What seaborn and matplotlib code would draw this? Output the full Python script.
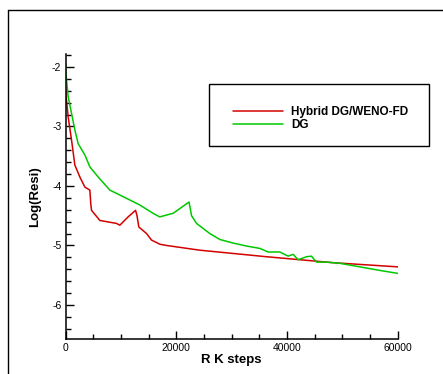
import numpy as np
import pandas as pd
import matplotlib
matplotlib.use("Agg")
import matplotlib.pyplot as plt
import seaborn as sns
from matplotlib.lines import Line2D
from matplotlib.patches import Rectangle
from matplotlib.ticker import MultipleLocator

# residual history
hybrid_steps = [0, 50, 470, 1080, 1680, 2580, 3490, 4390, 4550, 4690, 6190, 7400,
                9200, 9800, 11300, 12640, 12900, 13230, 14620, 15520, 17040, 18200,
                24250, 36300, 48300, 60000]
hybrid_resi = [-2.3, -2.45, -2.84, -3.23, -3.65, -3.85, -4.02, -4.07, -4.3, -4.41,
               -4.58, -4.60, -4.63, -4.66, -4.52, -4.41, -4.50, -4.69, -4.80, -4.91,
               -4.98, -5.0, -5.08, -5.19, -5.29, -5.36]

dg_steps = [0, 50, 470, 1080, 1680, 2280, 3490, 4390, 5890, 8000, 10400, 13400,
            15800, 17000, 19430, 21840, 22300, 22750, 23650, 26050, 27860, 30260,
            32670, 35080, 36580, 38690, 40190, 41100, 42000, 43510, 44400, 45300,
            47100, 49500, 53150, 56760, 60000]
dg_resi = [-1.94, -2.1, -2.5, -2.78, -3.06, -3.29, -3.48, -3.68, -3.85, -4.07, -4.18,
           -4.32, -4.46, -4.52, -4.46, -4.30, -4.27, -4.50, -4.63, -4.80, -4.90,
           -4.96, -5.01, -5.05, -5.11, -5.11, -5.18, -5.15, -5.24, -5.19, -5.18,
           -5.28, -5.28, -5.30, -5.36, -5.42, -5.47]

labels = ["Hybrid DG/WENO-FD", "DG"]
colors = ["#d40000", "#00c800"]

df = pd.concat([
    pd.DataFrame({"step": hybrid_steps, "resi": hybrid_resi, "scheme": labels[0]}),
    pd.DataFrame({"step": dg_steps, "resi": dg_resi, "scheme": labels[1]}),
])

sns.set_style("ticks")
plt.rcParams["font.family"] = ["Liberation Sans", "DejaVu Sans"]

fig = plt.figure(figsize=(4.43, 3.74), dpi=100)
ax = fig.add_axes([0.148, 0.094, 0.750, 0.762])

sns.lineplot(data=df, x="step", y="resi", hue="scheme", palette=colors,
             linewidth=1.1, ax=ax, legend=False, sort=False)

ax.set_xlim(0, 60000)
ax.set_ylim(-6.57, -1.78)
ax.set_xticks([0, 20000, 40000, 60000])
ax.set_yticks([-2, -3, -4, -5, -6])
ax.set_yticklabels(["-2", "-3", "-4", "-5", "-6"])
ax.xaxis.set_minor_locator(MultipleLocator(5000))
ax.yaxis.set_minor_locator(MultipleLocator(0.2))
ax.tick_params(which="major", direction="in", length=6, width=1, labelsize=7.5,
               pad=3, labelcolor="black", color="black")
ax.tick_params(which="minor", direction="in", length=3.5, width=1, color="black")
for s in ["top", "right"]:
    ax.spines[s].set_visible(False)
for s in ["left", "bottom"]:
    ax.spines[s].set_linewidth(1.1)
    ax.spines[s].set_color("black")

ax.set_xlabel("R K steps", fontsize=9.5, fontweight="bold", labelpad=1, color="black")
ax.set_ylabel("Log(Resi)", fontsize=9.5, fontweight="bold", labelpad=8, color="black")

# legend box
fig.add_artist(Rectangle((0.472, 0.610), 0.496, 0.165, transform=fig.transFigure,
                         fill=False, edgecolor="black", linewidth=1))
handles = [Line2D([], [], color=c, linewidth=1.1) for c in colors]
leg = fig.legend(handles, labels, loc="center left", bbox_to_anchor=(0.513, 0.683),
                 frameon=False, handlelength=4.2, handletextpad=0.7, labelspacing=0.1,
                 prop={"size": 8.5, "weight": "bold"}, borderpad=0)
for t in leg.get_texts():
    t.set_color("black")

# outer frame
fig.add_artist(Line2D([0.018, 1.0], [0.973, 0.973], transform=fig.transFigure,
                      color="black", linewidth=1))
fig.add_artist(Line2D([0.018, 0.018], [0.0, 0.973], transform=fig.transFigure,
                      color="black", linewidth=1))

fig.savefig("out.png", dpi=100)
